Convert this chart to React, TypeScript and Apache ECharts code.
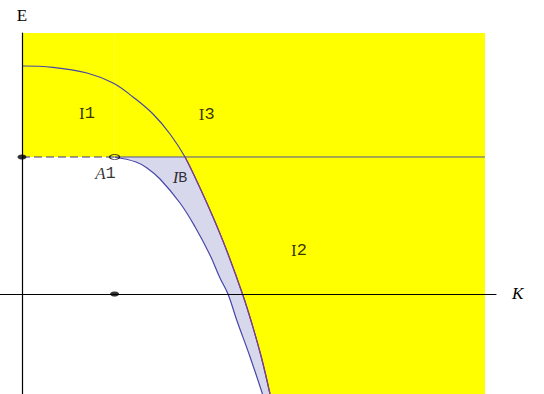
import React, { useEffect, useRef } from "react";
import * as echarts from "echarts";

// Axis window (K horizontal, E vertical)
const K_MIN = -0.2376;
const K_MAX = 5.119;
const E_MIN = -0.73;
const E_MAX = 1.905;

// Shaded field and the threshold level E = 1
const fieldK = [0, 5];
const levelE = 1;
const pointA1K = 1;

// Upper dispersion branch
const upperK = [0, 0.3348, 0.7019, 0.9827, 1.1987, 1.4147, 1.5983, 1.7603, 1.8974, 2.0626, 2.2084, 2.3812, 2.4806, 2.5842, 2.6782];
const upperE = [1.6642, 1.6547, 1.6131, 1.5401, 1.438, 1.3139, 1.1679, 1.0, 0.8102, 0.562, 0.3212, 0, -0.2117, -0.4599, -0.73];

// Lower branch, starting at A1
const lowerK = [1.0, 1.2311, 1.3499, 1.4903, 1.7063, 1.8683, 2.0302, 2.1382, 2.2246, 2.3186, 2.4622, 2.5972];
const lowerE = [1.0, 0.9635, 0.9197, 0.8394, 0.6642, 0.4912, 0.2847, 0.1168, 0, -0.1898, -0.4577, -0.73];

// Marked points
const dotK = [0, 1];
const dotE = [1, 0];

// Region labels
const labelTexts = ["{r|I}{m|1}", "{r|I}{m|3}", "{r|I}{m|2}", "{ri|I}{mb|B}", "{ri|A}{m|1}"];
const labelK = [0.702, 1.995, 2.991, 1.706, 0.902];
const labelE = [1.328, 1.319, 0.328, 0.861, 0.891];

const YELLOW = "#ffff00";
const LAVENDER = "#d8d8ec";
const CURVE = "#4646a8";
const EDGE = "#883c8c";

const SERIF = "Liberation Serif";
const MONO = "Liberation Mono";

const zip = (xs: number[], ys: number[]) => xs.map((x, i) => [x, ys[i]]);

export default function App() {
  const ref = useRef<HTMLDivElement>(null);

  useEffect(() => {
    if (!ref.current) return;
    const chart = echarts.init(ref.current, undefined, { renderer: "svg" });

    const upper = zip(upperK, upperE);
    const lower = zip(lowerK, lowerE);
    const crossIdx = upperE.findIndex((e) => e <= levelE);
    const upperBelow = upper.slice(crossIdx);

    const area = (data: number[][], color: string, origin: any, z: number, smooth: boolean) => ({
      type: "line",
      data,
      smooth: smooth ? 0.4 : false,
      symbol: "none",
      silent: true,
      z,
      lineStyle: { width: 0, opacity: 0 },
      areaStyle: { color, opacity: 1, origin },
    });

    const curve = (data: number[][], color: string, z: number) => ({
      type: "line",
      data,
      smooth: 0.4,
      symbol: "none",
      silent: true,
      z,
      lineStyle: { color, width: 1.2 },
    });

    const plainLine = (data: number[][], lineStyle: any, z: number) => ({
      type: "line",
      data,
      symbol: "none",
      silent: true,
      z,
      lineStyle,
    });

    chart.setOption({
      animation: false,
      grid: { left: 0, right: 48, top: 33, bottom: 0 },
      xAxis: {
        type: "value",
        min: K_MIN,
        max: K_MAX,
        z: 10,
        name: "K",
        nameLocation: "end",
        nameGap: 16,
        nameTextStyle: { fontFamily: SERIF, fontStyle: "italic", fontSize: 17, color: "#000" },
        axisLine: { onZero: true, lineStyle: { color: "#000", width: 1.2 } },
        axisTick: { show: false },
        axisLabel: { show: false },
        splitLine: { show: false },
      },
      yAxis: {
        type: "value",
        min: E_MIN,
        max: E_MAX,
        z: 10,
        name: "E",
        nameLocation: "end",
        nameGap: 9,
        nameTextStyle: { fontFamily: SERIF, fontSize: 17, color: "#000" },
        axisLine: { onZero: true, lineStyle: { color: "#000", width: 1.2 } },
        axisTick: { show: false },
        axisLabel: { show: false },
        splitLine: { show: false },
      },
      series: [
        // yellow field
        area([[fieldK[0], E_MAX], [fieldK[1], E_MAX]], YELLOW, "start", 1, false),
        // band under the upper branch
        area(upper, LAVENDER, "start", 2, true),
        // field above E = 1
        area([[fieldK[0], E_MAX], [fieldK[1], E_MAX]], YELLOW, levelE, 3, false),
        // empty region below E = 1, left of the lower branch
        area([[fieldK[0], levelE], ...lower], "#ffffff", "start", 4, true),
        // faint guide at K = 1 inside the field
        plainLine([[pointA1K, levelE], [pointA1K, E_MAX]], { color: "rgba(255,255,255,0.14)", width: 1 }, 4),
        // level E = 1
        plainLine([[pointA1K, levelE], [fieldK[1], levelE]], { color: "#50509a", width: 1 }, 5),
        plainLine([[fieldK[0], levelE], [pointA1K, levelE]], { color: "#3a3a80", width: 1.2, type: [8, 4] }, 5),
        curve(upper, CURVE, 6),
        curve(upperBelow, EDGE, 7),
        curve(lower, CURVE, 6),
        // marked points
        {
          type: "scatter",
          data: zip(dotK, dotE),
          symbol: "circle",
          symbolSize: [9, 5],
          silent: true,
          z: 12,
          itemStyle: { color: "#000" },
        },
        {
          type: "scatter",
          data: [[pointA1K, levelE]],
          symbol: "circle",
          symbolSize: [10, 5],
          silent: true,
          z: 12,
          itemStyle: { color: "rgba(0,0,0,0)", borderColor: "#000", borderWidth: 1 },
        },
        // region labels
        {
          type: "scatter",
          data: labelTexts.map((t, i) => ({ value: [labelK[i], labelE[i]], text: t })),
          symbolSize: 0,
          silent: true,
          z: 13,
          label: {
            show: true,
            position: "inside",
            align: "center",
            verticalAlign: "middle",
            formatter: (p: any) => p.data.text,
            rich: {
              r: { fontFamily: SERIF, fontSize: 17, lineHeight: 20, color: "#000", verticalAlign: "bottom" },
              ri: { fontFamily: SERIF, fontStyle: "italic", fontSize: 17, lineHeight: 20, color: "#000", verticalAlign: "bottom" },
              m: { fontFamily: MONO, fontSize: 17, lineHeight: 20, color: "#000", verticalAlign: "bottom" },
              mb: { fontFamily: MONO, fontSize: 15, lineHeight: 20, color: "#000", verticalAlign: "bottom" },
            },
          },
        },
      ],
    });

    return () => chart.dispose();
  }, []);

  return (
    <div
      ref={ref}
      style={{ position: "absolute", left: 0, top: 0, width: 544, height: 394, background: "#fff" }}
    />
  );
}
